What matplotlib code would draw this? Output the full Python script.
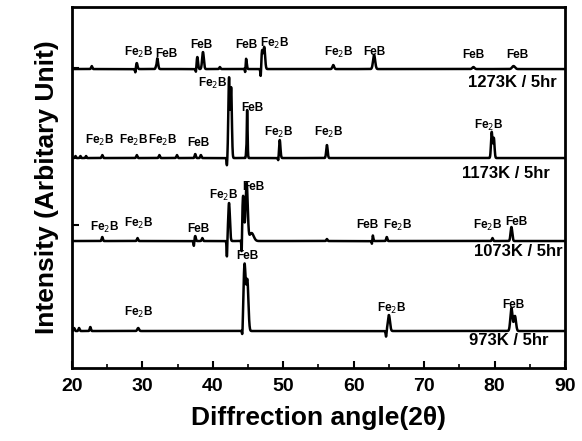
import numpy as np
import matplotlib.pyplot as plt

plt.rcParams['font.family'] = ['Liberation Sans', 'DejaVu Sans']

# peak lists per sample: position (2theta), height (arb. units), width (sigma)
samples = ['973K / 5hr', '1073K / 5hr', '1173K / 5hr', '1273K / 5hr']
offsets = [37, 127, 210, 299]

pos_973 = [20.3, 21.0, 22.6, 29.4, 44.2, 44.5, 44.9, 64.6, 65.0, 82.4, 82.9]
hgt_973 = [3, 3, 4, 3, -10, 66, 50, -6, 16, 23, 15]
wid_973 = [0.08, 0.08, 0.08, 0.12, 0.06, 0.15, 0.15, 0.06, 0.15, 0.15, 0.15]

pos_1073 = [24.3, 29.3, 37.3, 37.5, 38.5, 42.0, 42.3, 44.1, 44.3, 44.8, 45.5,
            56.2, 62.6, 62.7, 64.7, 79.7, 82.4]
hgt_1073 = [4, 3, -5, 5, 3, -17, 38, -20, 45, 58, 8, 2, -5, 6, 4, 3, 14]
wid_1073 = [0.08, 0.08, 0.05, 0.08, 0.08, 0.05, 0.12, 0.05, 0.12, 0.15, 0.3,
            0.08, 0.05, 0.08, 0.08, 0.08, 0.12]

pos_1173 = [20.5, 21.2, 22.0, 24.3, 29.2, 32.4, 34.9, 37.5, 38.3, 42.0, 42.3,
            42.6, 44.8, 44.85, 49.3, 49.5, 56.2, 79.6, 79.9]
hgt_1173 = [2, 2, 2, 3, 3, 3, 3, 4, 3, -8, 80, 70, -22, 55, -4, 18, 13, 26, 20]
wid_1173 = [0.06, 0.06, 0.06, 0.08, 0.08, 0.08, 0.08, 0.08, 0.08, 0.05, 0.1,
            0.1, 0.04, 0.07, 0.05, 0.1, 0.1, 0.1, 0.1]

pos_1273 = [22.8, 29.0, 29.2, 32.0, 32.1, 37.6, 37.8, 38.6, 41.0, 44.6, 44.7,
            46.8, 47.0, 47.3, 57.1, 62.9, 77.0, 82.7]
hgt_1273 = [3, -4, 6, -3, 11, -4, 12, 17, 2, -9, 11, -9, 18, 22, 4, 14, 2, 3]
wid_1273 = [0.08, 0.05, 0.1, 0.05, 0.12, 0.05, 0.1, 0.12, 0.08, 0.05, 0.1,
            0.05, 0.1, 0.12, 0.12, 0.15, 0.15, 0.2]

peaks = [(pos_973, hgt_973, wid_973), (pos_1073, hgt_1073, wid_1073),
         (pos_1173, hgt_1173, wid_1173), (pos_1273, hgt_1273, wid_1273)]

# peak labels: (2theta, y, text)
fe2b = 'Fe$_2$B'
labels_973 = [(29.5, 56, fe2b), (44.9, 112, 'FeB'), (65.4, 60, fe2b), (82.7, 63, 'FeB')]
labels_1073 = [(24.7, 141, fe2b), (29.4, 145, fe2b), (37.9, 139, 'FeB'),
               (41.5, 173, fe2b), (45.7, 181, 'FeB'), (61.9, 143, 'FeB'),
               (66.2, 143, fe2b), (79.0, 143, fe2b), (83.1, 146, 'FeB')]
labels_1173 = [(24.0, 228, fe2b), (28.7, 228, fe2b), (32.9, 228, fe2b),
               (38.0, 225, 'FeB'), (40.0, 285, fe2b), (45.6, 260, 'FeB'),
               (49.4, 236, fe2b), (56.4, 236, fe2b), (79.1, 243, fe2b)]
labels_1273 = [(29.4, 316, fe2b), (33.4, 314, 'FeB'), (38.4, 323, 'FeB'),
               (44.7, 323, 'FeB'), (48.8, 325, fe2b), (57.8, 316, fe2b),
               (63.0, 316, 'FeB'), (77.0, 313, 'FeB'), (83.2, 313, 'FeB')]
peak_labels = [labels_973, labels_1073, labels_1173, labels_1273]
sample_label_pos = [(87.6, 28), (89.6, 117), (87.9, 195), (88.9, 286)]

fig = plt.figure(figsize=(5.82, 4.41), dpi=100)
ax = fig.add_axes([0.1237, 0.1655, 0.847, 0.8185])

x = np.linspace(20, 90, 7001)
for (p, h, w), off, lab, (tx, ty), name in zip(peaks, offsets, peak_labels,
                                              sample_label_pos, samples):
    y = np.full_like(x, off, dtype=float)
    for pi, hi, wi in zip(p, h, w):
        y += hi * np.exp(-0.5 * ((x - pi) / wi) ** 2)
    ax.plot(x, y, color='black', lw=1.8)
    for lx, ly, lt in lab:
        ax.text(lx, ly, lt, ha='center', va='center', fontsize=8.5,
                fontweight='bold')
    ax.text(tx, ty, name, ha='right', va='center', fontsize=12,
            fontweight='bold')

ax.set_xlim(20, 90)
ax.set_ylim(0, 361)
ax.set_xticks(np.arange(20, 91, 10))
ax.set_xticks(np.arange(25, 90, 10), minor=True)
ax.set_yticks([143, 300])
ax.set_yticklabels([])
ax.tick_params(direction='in', length=5, width=1.5, pad=7)
ax.tick_params(which='minor', direction='in', length=3, width=1.2)
for lbl in ax.get_xticklabels():
    lbl.set_fontweight('bold')
    lbl.set_fontsize(14)
for s in ax.spines.values():
    s.set_linewidth(2)
ax.set_xlabel('Diffrection angle(2\u03b8)', fontsize=19, fontweight='bold',
              labelpad=8)
ax.set_ylabel('Intensity (Arbitary Unit)', fontsize=19, fontweight='bold',
              labelpad=2)

fig.savefig('out.png', dpi=100)
